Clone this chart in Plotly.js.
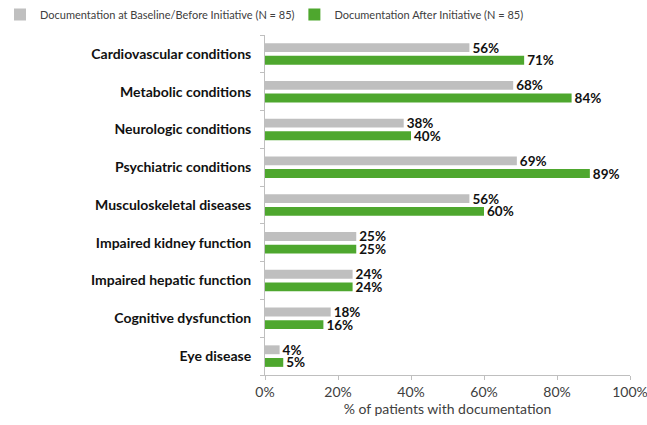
<!DOCTYPE html>
<html><head><meta charset="utf-8">
<script src="https://cdn.plot.ly/plotly-3.0.1.min.js"></script>
<style>body{margin:0;background:#fff}#c{width:647px;height:425px}</style>
</head><body><div id="c"></div>
<script>
const categories = ["Cardiovascular conditions","Metabolic conditions","Neurologic conditions","Psychiatric conditions","Musculoskeletal diseases","Impaired kidney function","Impaired hepatic function","Cognitive dysfunction","Eye disease"];
const baseline = [56,68,38,69,56,25,24,18,4];
const after = [71,84,40,89,60,25,24,16,5];
const seriesNames = ["Documentation at Baseline/Before Initiative (N = 85)","Documentation After Initiative (N = 85)"];
const xTicks = [0,20,40,60,80,100];
const xTickText = xTicks.map(v => v + "%");
const FONT = "Lato, 'Open Sans', sans-serif";
function tr(vals, name, color, leg){
  return {type:"bar", orientation:"h", y:categories, x:vals, name:name, legend:leg,
    marker:{color:color}, text:vals.map(v=>"<b>"+v+"%</b>"), textposition:"outside",
    constraintext:"none",
    textfont:{family:FONT,size:13.5,color:"#111"}, cliponaxis:false, hoverinfo:"none"};
}
const data = [tr(baseline, seriesNames[0], "#BFBFBF", "legend"), tr(after, seriesNames[1], "#4EA72E", "legend2")];
const legFont = {family:FONT,size:11,color:"#404040"};
const layout = {
  width:647, height:425, margin:{l:265,r:17,t:35,b:50,autoexpand:false},
  paper_bgcolor:"#fff", plot_bgcolor:"#fff",
  barmode:"group", bargap:0.33, bargroupgap:0.3,
  showlegend:true,
  legend:{orientation:"h", xref:"container", yref:"container", x:0, xanchor:"left", y:1, yanchor:"top",
    font:legFont, itemwidth:30, bgcolor:"rgba(0,0,0,0)"},
  legend2:{orientation:"h", xref:"container", yref:"container", x:0.455, xanchor:"left", y:1, yanchor:"top",
    font:legFont, itemwidth:30, bgcolor:"rgba(0,0,0,0)"},
  xaxis:{range:[0,100], tickvals:xTicks, ticktext:xTickText, showgrid:false, zeroline:false,
    showline:true, linecolor:"#BFBFBF", ticks:"outside", ticklen:4, tickcolor:"#BFBFBF",
    ticklabeloverflow:"allow",
    tickfont:{family:FONT,size:14,color:"#404040"},
    title:{text:"% of patients with documentation", font:{family:FONT,size:14,color:"#404040"}, standoff:4}},
  yaxis:{autorange:"reversed", showgrid:false, zeroline:false, showline:true, linecolor:"#BFBFBF",
    ticks:"outside", tickson:"boundaries", ticklen:4, tickcolor:"#BFBFBF",
    tickfont:{family:FONT,size:14,color:"#111"}, ticklabelstandoff:10,
    tickvals:categories, ticktext:categories.map(c=>"<b>"+c+"</b>")},
  font:{family:FONT}
};
Plotly.newPlot("c", data, layout, {displayModeBar:false, staticPlot:true});
</script></body></html>
